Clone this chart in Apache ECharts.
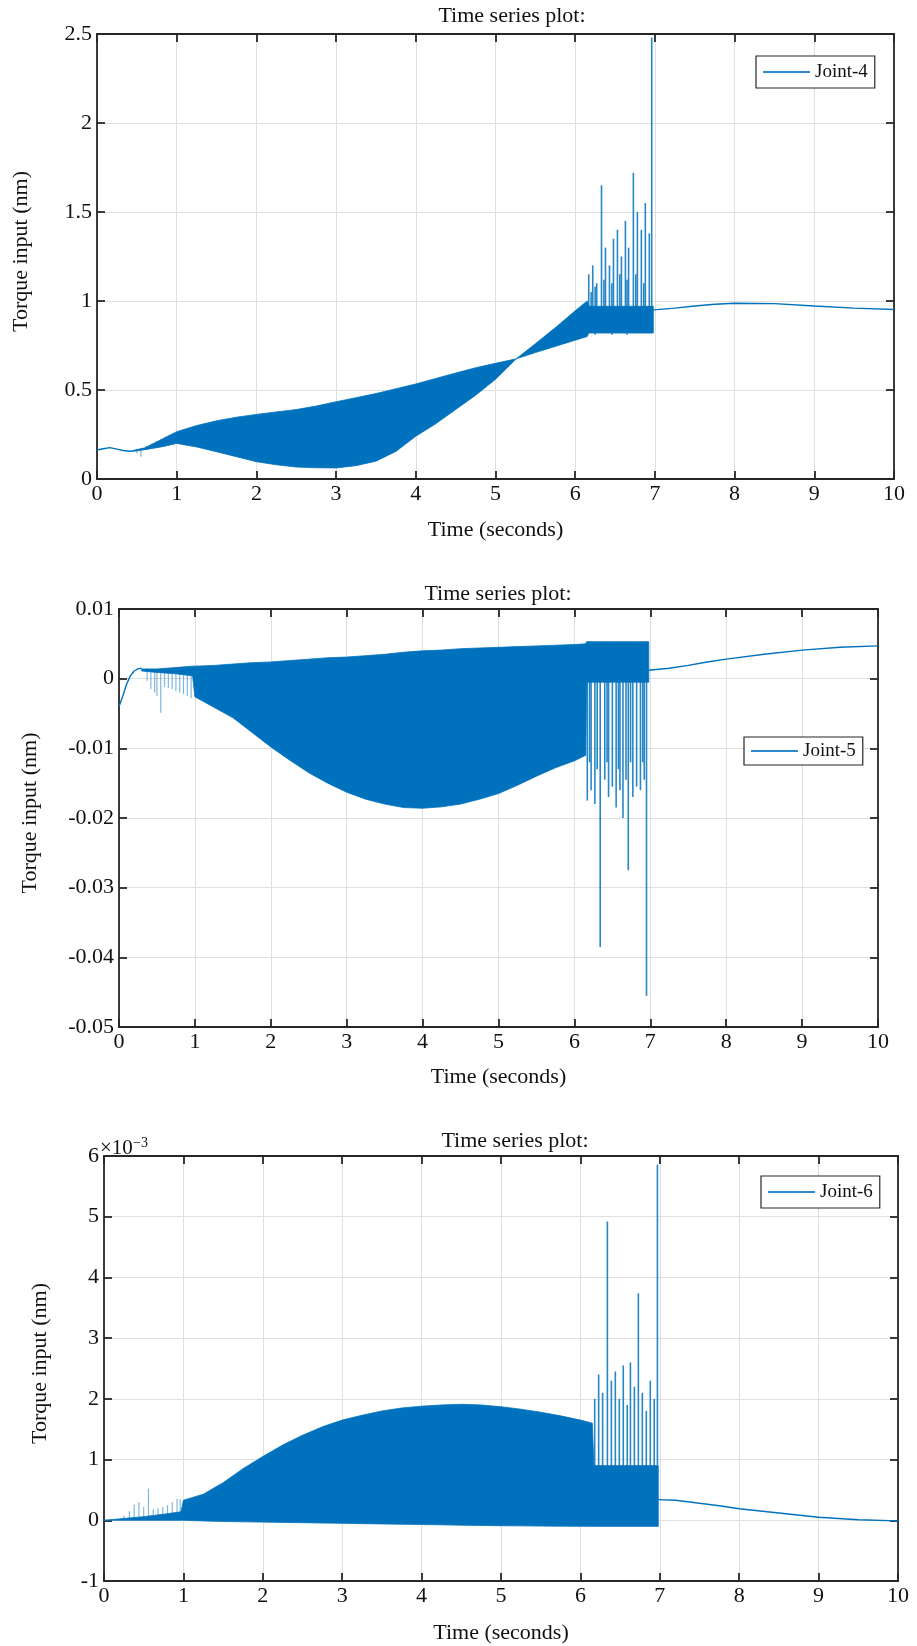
<!DOCTYPE html>
<html>
<head>
<meta charset="utf-8">
<script src="https://cdn.jsdelivr.net/npm/echarts@6/dist/echarts.min.js"></script>
<style>html,body{margin:0;padding:0;background:#fff}#c{width:917px;height:1646px}</style>
</head>
<body>
<div id="c"></div>
<script>
// ---------- shared axis ticks ----------
const xTicks = [0, 1, 2, 3, 4, 5, 6, 7, 8, 9, 10];
const y4Ticks = [0, 0.5, 1, 1.5, 2, 2.5];
const y5Ticks = [-0.05, -0.04, -0.03, -0.02, -0.01, 0, 0.01];
const y6Ticks = [-1, 0, 1, 2, 3, 4, 5, 6]; // in units of 1e-3

// ---------- Joint-4 ----------
const j4PreT = [0, 0.08, 0.16, 0.25, 0.33, 0.4, 0.45];
const j4PreV = [0.163, 0.170, 0.176, 0.168, 0.160, 0.156, 0.157];
const j4BandT  = [0.45, 0.6, 0.8, 1.0, 1.25, 1.5, 1.75, 2.0, 2.25, 2.5, 2.75, 3.0, 3.25, 3.5, 3.75, 4.0, 4.25, 4.5, 4.75, 5.0, 5.26, 5.5, 5.75, 6.0, 6.15, 6.17, 6.98];
const j4BandHi = [0.16, 0.175, 0.22, 0.266, 0.30, 0.327, 0.347, 0.363, 0.377, 0.39, 0.41, 0.434, 0.457, 0.48, 0.507, 0.534, 0.565, 0.595, 0.625, 0.65, 0.675, 0.76, 0.85, 0.945, 1.0, 0.97, 0.97];
const j4BandLo = [0.155, 0.165, 0.18, 0.20, 0.18, 0.153, 0.125, 0.097, 0.08, 0.067, 0.063, 0.062, 0.075, 0.10, 0.155, 0.24, 0.31, 0.39, 0.47, 0.56, 0.675, 0.71, 0.745, 0.78, 0.80, 0.82, 0.82];
const j4SpikeT  = [0.5, 0.55, 0.62, 0.68, 0.74, 0.8, 0.85, 0.9, 0.95,
                   6.17, 6.2, 6.22, 6.25, 6.27, 6.33, 6.36, 6.38, 6.43, 6.46, 6.48, 6.53, 6.56, 6.58, 6.63, 6.65, 6.67, 6.73, 6.76, 6.78, 6.83, 6.86, 6.88, 6.93, 6.96];
const j4SpikeLo = [0.145, 0.125, 0.165, 0.17, 0.175, 0.18, 0.18, 0.185, 0.19,
                   0.82, 0.82, 0.82, 0.81, 0.83, 0.82, 0.82, 0.83, 0.82, 0.81, 0.82, 0.83, 0.82, 0.82, 0.82, 0.81, 0.82, 0.82, 0.82, 0.82, 0.83, 0.82, 0.82, 0.82, 0.85];
const j4SpikeHi = [0.17, 0.17, 0.185, 0.2, 0.21, 0.225, 0.235, 0.245, 0.255,
                   1.15, 1.05, 1.2, 1.08, 1.1, 1.65, 1.12, 1.3, 1.2, 1.1, 1.35, 1.4, 1.15, 1.25, 1.45, 1.12, 1.3, 1.72, 1.15, 1.5, 1.4, 1.1, 1.55, 1.38, 2.48];
const j4TailT = [6.98, 7.0, 7.25, 7.5, 7.75, 8.0, 8.5, 9.0, 9.5, 10];
const j4TailV = [0.95, 0.945, 0.96, 0.972, 0.982, 0.987, 0.985, 0.972, 0.96, 0.952];

// ---------- Joint-5 ----------
const j5PreT = [0, 0.05, 0.1, 0.15, 0.2, 0.25, 0.3];
const j5PreV = [-0.004, -0.0025, -0.0008, 0.0004, 0.0011, 0.0014, 0.0015];
const j5BandT  = [0.3, 0.5, 0.75, 0.97, 1.0, 1.25, 1.5, 1.75, 2.0, 2.25, 2.5, 2.75, 3.0, 3.25, 3.5, 3.75, 4.0, 4.25, 4.5, 4.75, 5.0, 5.25, 5.5, 5.75, 6.0, 6.15, 6.16, 6.98];
const j5BandHi = [0.0014, 0.0014, 0.0016, 0.0018, 0.0018, 0.0019, 0.0021, 0.0023, 0.0024, 0.0026, 0.0028, 0.0030, 0.0031, 0.0033, 0.0035, 0.0038, 0.0040, 0.0041, 0.0043, 0.0044, 0.0045, 0.0046, 0.0047, 0.0048, 0.0049, 0.0050, 0.0053, 0.0053];
const j5BandLo = [0.0011, 0.0009, 0.0007, 0.0004, -0.0026, -0.0041, -0.0056, -0.0077, -0.0098, -0.0117, -0.0135, -0.0150, -0.0163, -0.0173, -0.0180, -0.0185, -0.0186, -0.0184, -0.0180, -0.0173, -0.0165, -0.0153, -0.0140, -0.0128, -0.0118, -0.0110, -0.0005, -0.0005];
const j5SpikeT  = [0.37, 0.42, 0.47, 0.5, 0.55, 0.6, 0.65, 0.7, 0.75, 0.8, 0.85, 0.9, 0.95,
                   6.17, 6.2, 6.22, 6.27, 6.3, 6.34, 6.40, 6.43, 6.45, 6.50, 6.55, 6.58, 6.60, 6.64, 6.68, 6.71, 6.74, 6.77, 6.82, 6.87, 6.9, 6.92, 6.95];
const j5SpikeLo = [-0.0003, -0.0015, -0.002, -0.0025, -0.0049, -0.0012, -0.0013, -0.0015, -0.0018, -0.002, -0.0022, -0.0025, -0.0028,
                   -0.0175, -0.012, -0.016, -0.018, -0.013, -0.0385, -0.0145, -0.012, -0.017, -0.0155, -0.0185, -0.013, -0.016, -0.020, -0.0145, -0.0275, -0.012, -0.017, -0.0155, -0.016, -0.012, -0.0145, -0.0455];
const j5SpikeHi = [0.0013, 0.0013, 0.0013, 0.0013, 0.0013, 0.0014, 0.0014, 0.0015, 0.0015, 0.0016, 0.0016, 0.0017, 0.0017,
                   0.0053, 0.0053, 0.0053, 0.0053, 0.0053, 0.0053, 0.0053, 0.0053, 0.0053, 0.0053, 0.0053, 0.0053, 0.0053, 0.0053, 0.0053, 0.0053, 0.0053, 0.0053, 0.0053, 0.0053, 0.0053, 0.0053, 0.0053];
const j5TailT = [6.98, 7.0, 7.25, 7.5, 7.75, 8.0, 8.5, 9.0, 9.5, 10];
const j5TailV = [0.0012, 0.0012, 0.0015, 0.0019, 0.0024, 0.0028, 0.0035, 0.0041, 0.0045, 0.0047];

// ---------- Joint-6 (values in units of 1e-3) ----------
const j6BandT  = [0, 0.25, 0.5, 0.75, 0.97, 1.0, 1.25, 1.5, 1.75, 2.0, 2.25, 2.5, 2.75, 3.0, 3.25, 3.5, 3.75, 4.0, 4.25, 4.5, 4.75, 5.0, 5.25, 5.5, 5.75, 6.0, 6.15, 6.17, 6.98];
const j6BandHi = [0, 0.03, 0.06, 0.1, 0.14, 0.33, 0.43, 0.62, 0.85, 1.05, 1.24, 1.4, 1.54, 1.65, 1.73, 1.8, 1.85, 1.88, 1.9, 1.91, 1.9, 1.87, 1.83, 1.78, 1.72, 1.65, 1.6, 0.9, 0.9];
const j6BandLo = [0, 0, 0, 0, 0, 0, -0.01, -0.02, -0.025, -0.03, -0.035, -0.04, -0.045, -0.05, -0.055, -0.06, -0.065, -0.07, -0.075, -0.08, -0.085, -0.09, -0.092, -0.095, -0.097, -0.1, -0.1, -0.1, -0.1];
const j6SpikeT  = [0.25, 0.32, 0.38, 0.44, 0.5, 0.56, 0.62, 0.68, 0.74, 0.8, 0.86, 0.92, 0.96,
                   6.18, 6.23, 6.28, 6.34, 6.39, 6.44, 6.49, 6.54, 6.59, 6.63, 6.68, 6.73, 6.78, 6.83, 6.88, 6.93, 6.97];
const j6SpikeLo = [0, 0, 0, 0, 0, 0, 0, 0, 0, 0, 0, 0, 0,
                   -0.1, -0.1, -0.1, -0.1, -0.1, -0.1, -0.1, -0.1, -0.1, -0.1, -0.1, -0.1, -0.1, -0.1, -0.1, -0.1, -0.1];
const j6SpikeHi = [0.08, 0.15, 0.26, 0.3, 0.22, 0.52, 0.18, 0.2, 0.22, 0.25, 0.3, 0.35, 0.35,
                   2.0, 2.4, 2.1, 4.92, 2.3, 2.45, 2.0, 2.55, 1.9, 2.6, 2.2, 3.74, 2.1, 1.8, 2.3, 2.0, 5.86];
const j6TailT = [6.98, 7.0, 7.2, 7.5, 7.75, 8.0, 8.5, 9.0, 9.5, 10];
const j6TailV = [0.34, 0.34, 0.33, 0.28, 0.24, 0.19, 0.12, 0.05, 0.01, -0.01];

// ---------- styling ----------
const FONT = "'Liberation Serif', 'Times New Roman', serif";
const BLUE = '#0072BD';
const AX = '#262626';

const grids = [
  {left: 97, top: 34, width: 797, height: 445},
  {left: 119, top: 609, width: 759, height: 418},
  {left: 104, top: 1156, width: 794, height: 425}
];
const yCfg = [
  {min: 0, max: 2.5, interval: 0.5, ticks: y4Ticks, gap: 65, xgap: 40},
  {min: -0.05, max: 0.01, interval: 0.01, ticks: y5Ticks, gap: 78, xgap: 39},
  {min: -1, max: 6, interval: 1, ticks: y6Ticks, gap: 53, xgap: 41}
];

const lineAx = {show: true, onZero: false, lineStyle: {color: AX, width: 1.8}};
const tickAx = {show: true, inside: true, length: 8, lineStyle: {color: AX, width: 1.8}};
const labelTxt = {fontSize: 22, fontFamily: FONT, color: '#111'};

const xAxes = [], yAxes = [];
grids.forEach((g, i) => {
  xAxes.push({
    type: 'value', gridIndex: i, min: xTicks[0], max: xTicks[xTicks.length - 1], interval: 1,
    position: 'bottom', axisLine: lineAx, axisTick: tickAx,
    axisLabel: Object.assign({margin: 4}, labelTxt),
    splitLine: {show: true, lineStyle: {color: '#dfdfdf', width: 1}},
    name: 'Time (seconds)', nameLocation: 'middle', nameGap: yCfg[i].xgap,
    nameTextStyle: {fontSize: 22, fontFamily: FONT, color: '#111'}
  });
  yAxes.push({
    type: 'value', gridIndex: i, min: yCfg[i].min, max: yCfg[i].max, interval: yCfg[i].interval,
    position: 'left', axisLine: lineAx, axisTick: tickAx,
    axisLabel: Object.assign({margin: 5}, labelTxt),
    splitLine: {show: true, lineStyle: {color: '#dfdfdf', width: 1}},
    name: 'Torque input (nm)', nameLocation: 'middle', nameGap: yCfg[i].gap,
    nameTextStyle: {fontSize: 22, fontFamily: FONT, color: '#111', padding: [0, 0, 0, 10]}
  });
});
grids.forEach((g, i) => {
  xAxes.push({
    type: 'value', gridIndex: i, min: 0, max: 10, interval: 1, position: 'top',
    axisLine: lineAx, axisTick: tickAx, axisLabel: {show: false}, splitLine: {show: false}
  });
  yAxes.push({
    type: 'value', gridIndex: i, min: yCfg[i].min, max: yCfg[i].max, interval: yCfg[i].interval,
    position: 'right', axisLine: lineAx, axisTick: tickAx, axisLabel: {show: false}, splitLine: {show: false}
  });
});

function zip(a, b) { return a.map((v, i) => [v, b[i]]); }

function bandSeries(name, gi, T, H, L) {
  return {
    type: 'custom', name: name, xAxisIndex: gi, yAxisIndex: gi, z: 3,
    data: T.map((t, i) => [t, H[i], L[i]]),
    encode: {x: 0, y: [1, 2]},
    renderItem: function (params, api) {
      if (params.dataIndex !== 0) return {type: 'group', children: []};
      const pts = [];
      for (let i = 0; i < T.length; i++) pts.push(api.coord([T[i], H[i]]));
      for (let i = T.length - 1; i >= 0; i--) pts.push(api.coord([T[i], L[i]]));
      return {type: 'polygon', shape: {points: pts}, style: {fill: BLUE, stroke: BLUE, lineWidth: 0.8}};
    }
  };
}
function spikeSeries(name, gi, T, Lo, Hi) {
  return {
    type: 'custom', name: name, xAxisIndex: gi, yAxisIndex: gi, z: 4,
    data: T.map((t, i) => [t, Lo[i], Hi[i]]),
    encode: {x: 0, y: [1, 2]},
    renderItem: function (params, api) {
      const a = api.coord([api.value(0), api.value(1)]);
      const b = api.coord([api.value(0), api.value(2)]);
      const light = api.value(0) < 1.5;
      return {type: 'line', shape: {x1: a[0], y1: a[1], x2: b[0], y2: b[1]},
        style: {stroke: light ? 'rgba(0,114,189,0.5)' : 'rgba(0,114,189,0.85)', lineWidth: light ? 1.2 : 1.6}};
    }
  };
}
function lineSeries(name, gi, data) {
  return {type: 'line', name: name, xAxisIndex: gi, yAxisIndex: gi, data: data, symbol: 'none',
    showSymbol: false, z: 5, lineStyle: {color: BLUE, width: 1.4}, itemStyle: {color: BLUE}};
}

const series = [
  lineSeries('Joint-4', 0, zip(j4PreT, j4PreV)),
  lineSeries('Joint-4', 0, zip(j4TailT, j4TailV)),
  bandSeries('Joint-4', 0, j4BandT, j4BandHi, j4BandLo),
  spikeSeries('Joint-4', 0, j4SpikeT, j4SpikeLo, j4SpikeHi),
  lineSeries('Joint-5', 1, zip(j5PreT, j5PreV)),
  lineSeries('Joint-5', 1, zip(j5TailT, j5TailV)),
  bandSeries('Joint-5', 1, j5BandT, j5BandHi, j5BandLo),
  spikeSeries('Joint-5', 1, j5SpikeT, j5SpikeLo, j5SpikeHi),
  lineSeries('Joint-6', 2, zip(j6TailT, j6TailV)),
  bandSeries('Joint-6', 2, j6BandT, j6BandHi, j6BandLo),
  spikeSeries('Joint-6', 2, j6SpikeT, j6SpikeLo, j6SpikeHi)
];

function legendAt(name, left, top, padV) {
  return {
    data: [{name: name, icon: 'rect'}], left: left, top: top, orient: 'vertical',
    backgroundColor: '#fff', borderColor: AX, borderWidth: 1.2, borderRadius: 0,
    padding: [padV, 7, padV, 7], itemWidth: 47, itemHeight: 2,
    itemStyle: {color: '#2f8bd0', borderWidth: 0},
    textStyle: {fontSize: 19, fontFamily: FONT, color: '#111', lineHeight: 20},
    selectedMode: false
  };
}

const titleTxt = (x, y) => ({type: 'text', x: x, y: y, z: 10,
  style: {text: 'Time series plot:', font: '22px ' + FONT, fill: '#111', align: 'center', verticalAlign: 'middle'}});

const option = {
  animation: false,
  backgroundColor: '#fff',
  grid: grids,
  xAxis: xAxes,
  yAxis: yAxes,
  legend: [legendAt('Joint-4', 756, 56, 6), legendAt('Joint-5', 744, 737, 4), legendAt('Joint-6', 761, 1176, 6)],
  graphic: [
    titleTxt(512, 16), titleTxt(498, 594), titleTxt(515, 1141),
    {type: 'text', x: 100, y: 1148, z: 10, style: {text: '\u00d710', font: '21px ' + FONT, fill: '#111', align: 'left', verticalAlign: 'middle'}},
    {type: 'text', x: 133, y: 1143, z: 10, style: {text: '\u22123', font: '14px ' + FONT, fill: '#111', align: 'left', verticalAlign: 'middle'}}
  ],
  series: series
};

const chart = echarts.init(document.getElementById('c'), null, {renderer: 'canvas'});
chart.setOption(option);
</script>
</body>
</html>
